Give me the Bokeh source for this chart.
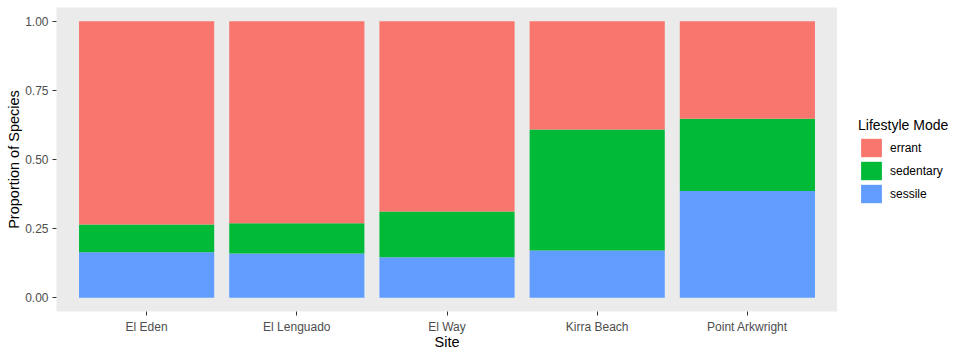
from bokeh.plotting import figure
from bokeh.layouts import row
from bokeh.models import (FactorRange, Range1d, FixedTicker, Legend, LegendItem,
                          ColumnDataSource, CustomJSTickFormatter)
from bokeh.embed import file_html
from bokeh.resources import INLINE

# ---- data ----
sites = ["El Eden", "El Lenguado", "El Way", "Kirra Beach", "Point Arkwright"]
sessile = [0.164, 0.160, 0.146, 0.171, 0.386]
sedentary = [0.101, 0.109, 0.166, 0.438, 0.261]
errant = [0.735, 0.731, 0.688, 0.391, 0.353]
modes = ["sessile", "sedentary", "errant"]          # stacking order, bottom to top
legend_order = ["errant", "sedentary", "sessile"]
colors = {"errant": "#F8766D", "sedentary": "#00BA38", "sessile": "#619CFF"}
y_ticks = [0.0, 0.25, 0.5, 0.75, 1.0]

FONT = "Liberation Sans"

source = ColumnDataSource(dict(site=sites, sessile=sessile,
                               sedentary=sedentary, errant=errant))

p = figure(width=837, height=357, output_backend="svg", toolbar_location=None,
           x_range=FactorRange(factors=sites, range_padding=0.1,
                               range_padding_units="absolute"),
           y_range=Range1d(-0.05, 1.05),
           min_border_left=56, min_border_right=0,
           min_border_top=7, min_border_bottom=46)

p.vbar_stack(modes, x="site", width=0.9, source=source,
             color=[colors[m] for m in modes], line_color=None)

p.background_fill_color = "#EBEBEB"
p.border_fill_color = "white"
p.outline_line_color = None
p.grid.grid_line_color = None

for ax in (p.xaxis[0], p.yaxis[0]):
    ax.axis_line_color = None
    ax.major_tick_in = 0
    ax.major_tick_out = 4
    ax.major_tick_line_color = "#333333"
    ax.minor_tick_line_color = None
    ax.major_label_text_font = FONT
    ax.major_label_text_font_size = "12px"
    ax.major_label_text_color = "#4D4D4D"
    ax.major_label_standoff = 4
    ax.axis_label_text_font = FONT
    ax.axis_label_text_font_size = "14.5px"
    ax.axis_label_text_font_style = "normal"
    ax.axis_label_text_color = "black"

p.xaxis.axis_label_standoff = -3
p.yaxis.axis_label_standoff = 0
p.xaxis.axis_label = "Site"
p.yaxis.axis_label = "Proportion of Species"
p.yaxis.ticker = FixedTicker(ticks=y_ticks)
p.yaxis.formatter = CustomJSTickFormatter(code="return tick.toFixed(2);")

# ---- legend panel (separate figure to the right) ----
# legend-only bars are hidden; the legend's inactive overlay is made transparent
lg = figure(width=130, height=357, output_backend="svg", toolbar_location=None,
            x_range=FactorRange(factors=sites), y_range=Range1d(0, 1),
            x_axis_location=None, y_axis_location=None, min_border=0)
lg.grid.grid_line_color = None
lg.outline_line_color = None
lg.background_fill_color = "white"
lg.border_fill_color = "white"

lg_renderers = lg.vbar_stack(modes, x="site", width=0.9, source=source,
                             color=[colors[m] for m in modes], line_color=None)
for r in lg_renderers:
    r.visible = False
rmap = dict(zip(modes, lg_renderers))

legend = Legend(items=[LegendItem(label=m, renderers=[rmap[m]]) for m in legend_order],
                location=(21, 106), title="Lifestyle Mode",
                title_text_font=FONT, title_text_font_size="14px",
                title_text_font_style="normal", title_text_color="black",
                title_standoff=3,
                label_text_font=FONT, label_text_font_size="12px",
                label_text_color="black", label_standoff=6,
                glyph_width=26, glyph_height=23, spacing=0,
                margin=0, padding=0, border_line_color=None,
                background_fill_alpha=0, inactive_fill_alpha=0)
lg.add_layout(legend)

layout = row(p, lg, spacing=0)
open("out.html", "w").write(file_html(layout, INLINE))
